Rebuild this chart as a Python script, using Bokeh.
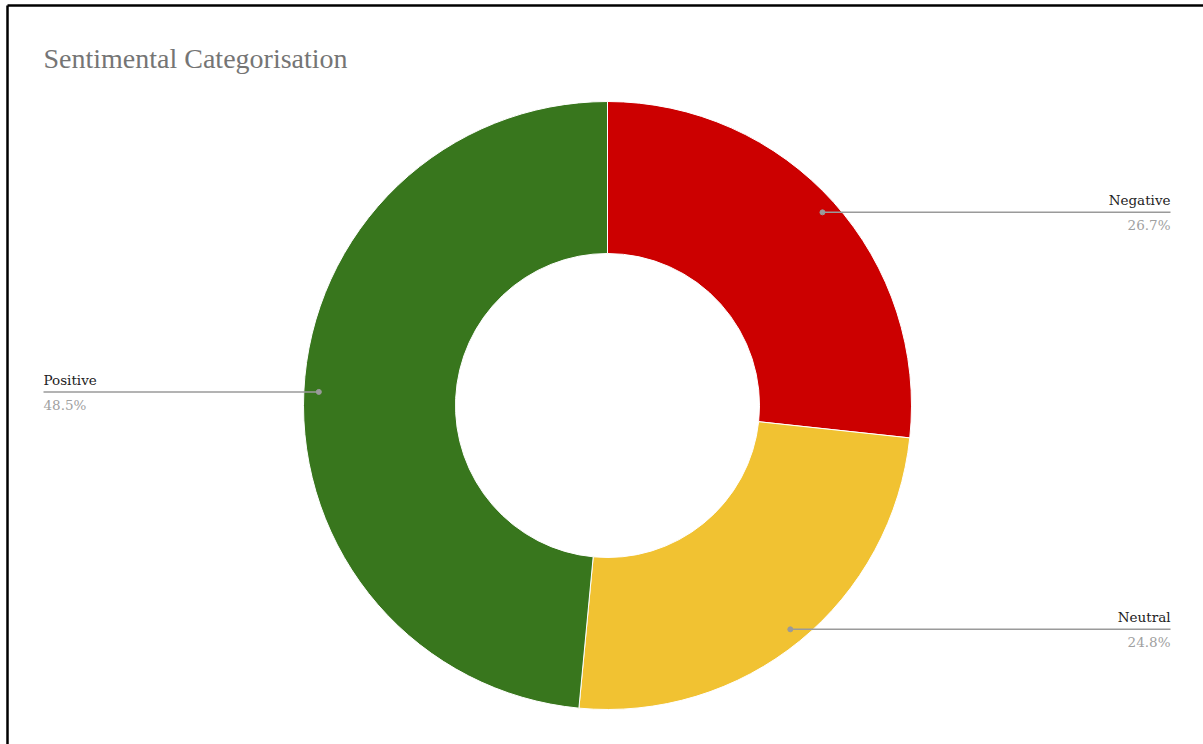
import math
from bokeh.plotting import figure
from bokeh.models import ColumnDataSource
from bokeh.core.properties import value
from bokeh.embed import file_html
from bokeh.resources import INLINE

# ---- data ----
title_text = "Sentimental Categorisation"
categories = ["Negative", "Neutral", "Positive"]
shares = [26.7, 24.8, 48.5]
colors = ["#cc0000", "#f1c232", "#38761d"]

W, H = 1203, 744
p = figure(width=W, height=H, x_range=(0, W), y_range=(0, H),
           output_backend="svg", toolbar_location=None, min_border=0)
p.axis.visible = False
p.grid.visible = False
p.outline_line_color = None
p.background_fill_color = "white"
p.border_fill_color = "white"

# frame (screenshot border: top and left)
p.segment(x0=[7, 7], y0=[H - 5, H - 5], x1=[7, W], y1=[0, H - 5],
          line_color="black", line_width=2.5)

cx, cy = 607, H - 405
r_out, r_in = 304, 152
r_dot = 289

starts, ends, mids = [], [], []
cum = 0.0
total = sum(shares)
for v in shares:
    s = cum / total
    e = (cum + v) / total
    starts.append(math.pi / 2 - 2 * math.pi * s)
    ends.append(math.pi / 2 - 2 * math.pi * e)
    mids.append(math.pi / 2 - 2 * math.pi * (s + e) / 2)
    cum += v

src = ColumnDataSource(dict(cat=categories, start=starts, end=ends, color=colors))
p.annular_wedge(x=cx, y=cy, inner_radius=r_in, outer_radius=r_out,
                start_angle="start", end_angle="end", direction="clock",
                fill_color="color", line_color="white", line_width=1, source=src)

dx, dy, lx, la, pct = [], [], [], [], []
for c, v, m in zip(categories, shares, mids):
    x = cx + r_dot * math.cos(m)
    y = cy + r_dot * math.sin(m)
    dx.append(x)
    dy.append(y)
    if math.cos(m) >= 0:
        lx.append(1170)
        la.append("right")
    else:
        lx.append(43)
        la.append("left")
    pct.append(f"{v:.1f}%")

lsrc = ColumnDataSource(dict(dx=dx, dy=dy, lx=lx, align=la, cat=categories, pct=pct,
                             ty=[y + 4 for y in dy], py=[y - 5 for y in dy]))
p.segment(x0="dx", y0="dy", x1="lx", y1="dy", line_color="#9a9a9a", line_width=1.5, source=lsrc)
p.scatter(x="dx", y="dy", size=5, fill_color="#9a9a9a", line_color="#9a9a9a", source=lsrc)
p.text(x="lx", y="ty", text="cat", text_align="align", text_baseline="bottom",
       text_font=value("DejaVu Serif"), text_font_size="13.5px", text_color="#222222", source=lsrc)
p.text(x="lx", y="py", text="pct", text_align="align", text_baseline="top",
       text_font=value("DejaVu Serif"), text_font_size="13.5px", text_color="#a0a0a0", source=lsrc)

p.text(x=[43], y=[H - 42], text=[title_text], text_align="left", text_baseline="top",
       text_font=value("Liberation Serif"), text_font_size="28px", text_color="#757575")

open("out.html", "w").write(file_html(p, INLINE))
